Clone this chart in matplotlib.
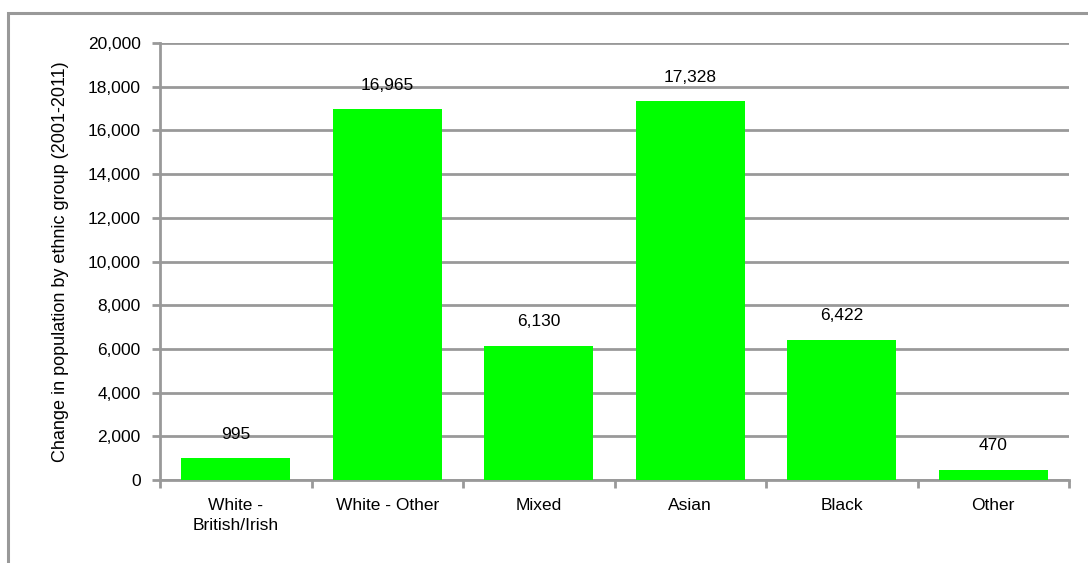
import matplotlib
matplotlib.use("Agg")
import matplotlib.pyplot as plt
from matplotlib.patches import Rectangle
from matplotlib.ticker import FuncFormatter, FixedLocator

plt.rcParams['font.family'] = ['Liberation Sans', 'DejaVu Sans']

categories = ["White -\nBritish/Irish", "White - Other", "Mixed", "Asian", "Black", "Other"]
values = [995, 16965, 6130, 17328, 6422, 470]
y_ticks = list(range(0, 20001, 2000))

title = "Figure 10: Absolute change in the size of each ethnic group"
y_label = "Change in population by ethnic group (2001-2011)"

W, H = 1088, 563
fig = plt.figure(figsize=(W / 100, H / 100), dpi=100)
fig.patch.set_facecolor("white")

grey = "#999999"

# chart frame (runs off the right and bottom edges)
fig.patches.append(Rectangle((8 / W, -0.05), 1.2, 1 - 13 / H + 0.05,
                             transform=fig.transFigure, fill=False,
                             edgecolor=grey, linewidth=2.2))

# title sits almost entirely above the visible canvas
fig.text(29 / W, 1 + 4.5 / H, title, fontsize=12.5, fontweight="bold",
         ha="left", va="baseline", color="black")

ax = fig.add_axes([160 / W, 1 - 480 / H, (1069 - 160) / W, (480 - 43) / H])
x = list(range(len(categories)))
bars = ax.bar(x, values, width=0.72, color="#00FF00", zorder=3)

ax.set_xlim(-0.5, len(categories) - 0.5)
ax.set_ylim(0, 20000)
ax.yaxis.set_major_locator(FixedLocator(y_ticks))
ax.yaxis.set_major_formatter(FuncFormatter(lambda v, p: f"{int(v):,}"))
ax.yaxis.grid(True, color=grey, linewidth=2.0, zorder=0)
ax.set_axisbelow(True)

# category labels centred, tick marks on the category boundaries
ax.set_xticks(x)
ax.set_xticklabels(categories, fontsize=12.5, linespacing=1.45)
ax.tick_params(axis="x", length=0, pad=13)
ax.set_xticks([i - 0.5 for i in range(len(categories) + 1)], minor=True)
ax.tick_params(axis="x", which="minor", length=6, width=2, color=grey, direction="out")
ax.tick_params(axis="y", length=6, width=2, color=grey, labelsize=12.5, pad=8)

for s in ["top", "right"]:
    ax.spines[s].set_visible(False)
for s in ["left", "bottom"]:
    ax.spines[s].set_color(grey)
    ax.spines[s].set_linewidth(2.0)

ax.set_ylabel(y_label, fontsize=13, labelpad=13)

for b, v in zip(bars, values):
    ax.annotate(f"{v:,}", (b.get_x() + b.get_width() / 2, v),
                xytext=(0, 12), textcoords="offset points",
                ha="center", va="bottom", fontsize=12.5)

fig.savefig("out.png", dpi=100, facecolor="white")
